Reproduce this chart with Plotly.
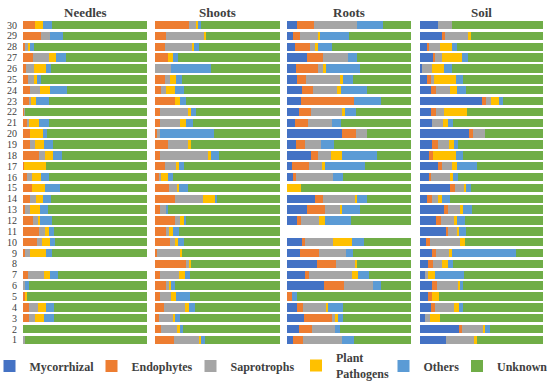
import plotly.graph_objects as go

rows = list(range(1, 31))
panels = ["Needles", "Shoots", "Roots", "Soil"]
categories = ["Mycorrhizal", "Endophytes", "Saprotrophs", "Plant<br>Pathogens", "Others", "Unknown"]
colors = ["#4472C4", "#ED7D31", "#A5A5A5", "#FFC000", "#5B9BD5", "#70AD47"]

# values per row 1..30 (percent); None = no sample
N = None
needles_myc = [0, 0, 0, 0, 0, 0, 0, N, 0, 0, 0, 0, 0, 0, 0, 0, 0, 0, 0, 0, 0, 0, 0, 0, 0, 0, 0, 0, 0, 0]
needles_end = [0, 0, 4.6, 5, 2, 0, 4, N, 2, 11.3, 12.6, 8, 2, 5.4, 7.3, 3.2, 0.8, 12.6, 6, 6, 3.2, 1, 4.5, 6, 4, 2.7, 8, 1.5, 14.5, 10]
needles_sap = [2, 0, 5.4, 7, 0, 2, 12.6, N, 3.5, 4, 5.4, 4.6, 3.5, 5.4, 0, 4, 0, 5.4, 4, 0, 2, 1, 2, 8, 4.5, 6, 13, 3, 7.5, 0]
needles_pat = [0, 0, 7.3, 6.5, 1.3, 0, 5.4, N, 13.4, 6.2, 2.7, 1.3, 8.6, 5.4, 10.8, 7.5, 18, 6.2, 6.7, 10, 8, 0, 4.3, 7.5, 2.7, 10, 5.5, 1.3, 0, 6]
needles_oth = [0, 0, 8, 6.2, 0, 2.7, 6.2, N, 4.6, 4.6, 4, 9.4, 6, 6.5, 11.6, 6.5, 0, 7.3, 7.5, 3, 8, 0, 10, 14, 3.2, 3.8, 8, 2.7, 10, 7.5]
needles_unk = [98, 100, 74.7, 75.3, 96.7, 95.3, 71.8, N, 76.5, 73.9, 75.3, 76.7, 79.9, 77.3, 70.3, 78.8, 81.2, 68.5, 75.8, 81, 78.8, 98, 79.2, 64.5, 85.6, 77.5, 65.5, 91.5, 68, 76.5]

shoots_myc = [0] * 30
shoots_end = [15, 5, 2.9, 7.2, 4.3, 8.6, 4.3, 24.6, 1.9, 11.8, 8.6, 15.8, 3.7, 16.3, 11, 3.7, 7.8, 4.3, 10, 1.9, 3.7, 3.7, 16.3, 5, 7.8, 0, 10, 7.8, 9, 27]
shoots_sap = [20.3, 12.6, 11.5, 16.6, 8.3, 3.2, 14.7, 2.4, 18, 4.5, 2.7, 4.5, 5.3, 22.2, 7, 1.3, 8.8, 38, 16, 1.9, 16, 22.7, 0, 3.5, 4, 13, 0, 21.4, 30.7, 5.6]
shoots_pat = [1.3, 2, 1.9, 3.2, 4.5, 1.3, 4.8, 1.6, 1.9, 2, 3.2, 2.7, 0, 9.4, 1.3, 5.3, 2.7, 2.7, 2.4, 0, 5.3, 2.7, 3.5, 7.8, 5.3, 0, 4.5, 2, 0.8, 1.9]
shoots_oth = [3.2, 2.7, 3.5, 4.8, 10.7, 3.2, 4, 0, 0, 4.8, 4.5, 2, 1.3, 1.9, 6.7, 4, 4, 5.9, 0, 43.3, 5.3, 4, 5.3, 7, 4.8, 31.5, 3.5, 4, 0, 2]
shoots_unk = [60.2, 77.7, 80.2, 68.2, 72.2, 83.7, 72.2, 71.4, 78.2, 76.9, 81, 75, 89.7, 50.2, 74, 85.7, 76.7, 49.1, 71.6, 52.9, 69.7, 66.9, 74.9, 76.7, 78.1, 55.5, 82, 64.8, 59.5, 63.5]

roots_myc = [4.9, 9.5, 13.8, 8.4, 0, 29.7, 14.3, 23.8, 10.8, 12.2, N, 8.1, 16.2, 22.4, 0, 4.9, 4, 19.2, 7, 44.6, 6.2, 9.5, 11.6, 12.2, 8.1, 7, 16.5, 6.2, 4.9, 8.1]
roots_end = [8.1, 10.8, 22.2, 4.6, 4.3, 16.5, 3.2, 15.7, 14.9, 2.7, N, 3.5, 14.3, 6.8, 0, 2.2, 13.8, 5.4, 7.8, 11.1, 10.8, 9.9, 42.4, 8.9, 7, 17.6, 12.2, 12.7, 5.9, 13.8]
roots_sap = [31.6, 18.4, 3.5, 18.4, 0, 23, 34.6, 15.4, 21.6, 22.4, N, 14, 12.2, 25.7, 0, 29.7, 10.8, 10.5, 13, 9.2, 18.9, 25.1, 0, 18.9, 27.6, 4.6, 20.8, 4.3, 14.3, 34.3]
roots_pat = [0, 0, 1.4, 1.9, 0, 0, 5.4, 1.9, 0, 15.4, N, 4.9, 1.9, 1.4, 11.6, 0, 2.4, 8.9, 0, 0, 0, 1.9, 0, 3.2, 2.7, 1.9, 0, 1.4, 1.4, 0]
roots_oth = [9.5, 4, 4.6, 12.2, 3.8, 6.8, 8.9, 0, 5.7, 9.7, N, 20.8, 14.3, 8.6, 0, 8.6, 31.9, 28.4, 10.3, 0, 7.6, 8.9, 21.6, 21.6, 7.6, 27.8, 7.3, 11.9, 23.8, 21.6]
roots_unk = [45.9, 57.3, 54.5, 54.5, 91.9, 24, 33.6, 43.2, 47, 37.6, N, 48.7, 41.1, 35.1, 88.4, 54.6, 37.1, 27.6, 61.9, 35.1, 56.5, 44.7, 24.4, 35.2, 47, 41.1, 43.2, 63.5, 49.7, 22.2]

soil_myc = [20.8, 31.6, 4, 8.6, 6.2, 9.5, 4, 6.8, 9.5, 4.6, 21.6, 13, 19.7, 5.9, 24.3, 8.1, 14.9, 7.3, 10, 40, 9.5, 8.6, 50.8, 8.6, 5.4, 1.9, 10.8, 5.9, 17.6, 14.9]
soil_end = [0, 2.7, 0, 3.5, 3.2, 4.6, 0, 3.5, 3.5, 3.5, 1.4, 4, 2.7, 4, 4, 1, 3.2, 3.5, 4.3, 3.2, 0, 4, 2.7, 4, 3.2, 0, 1.4, 1.4, 2.7, 0]
soil_sap = [23.8, 17, 4, 15.7, 0, 16.5, 2.7, 7.3, 10.8, 24.3, 6.8, 10.5, 10, 4.9, 7.6, 14.9, 8.1, 0, 9.5, 9.5, 8.9, 7, 4.6, 11.6, 3, 7.6, 5.9, 8.9, 19.5, 10.8]
soil_pat = [1.4, 1.4, 8.6, 4, 5.9, 1.9, 5.4, 5.4, 1.9, 4, 2.2, 2.2, 2.7, 3.2, 1.9, 3.2, 3.5, 18.4, 3.8, 0, 4.6, 18.6, 6.2, 6.2, 17.3, 10.3, 15.7, 9.5, 1.6, 0]
soil_oth = [0, 4.6, 0, 3.2, 0, 2.7, 23.5, 4, 52.7, 0, 5.4, 6.8, 6.8, 6.2, 4, 3.5, 17, 5.9, 3, 0, 4, 0, 3.2, 6.8, 5.7, 5.9, 5.4, 4.6, 0, 0]
soil_unk = [54, 42.7, 83.4, 65, 84.7, 64.8, 64.4, 73, 21.6, 63.6, 62.6, 63.5, 58.1, 75.8, 58.2, 69.3, 53.3, 64.9, 69.4, 47.3, 73, 61.8, 32.5, 62.8, 65.4, 74.3, 60.8, 69.7, 58.6, 74.3]

panel_data = [
    [needles_myc, needles_end, needles_sap, needles_pat, needles_oth, needles_unk],
    [shoots_myc, shoots_end, shoots_sap, shoots_pat, shoots_oth, shoots_unk],
    [roots_myc, roots_end, roots_sap, roots_pat, roots_oth, roots_unk],
    [soil_myc, soil_end, soil_sap, soil_pat, soil_oth, soil_unk],
]

W, H = 550, 387
x_domains = [(23, 147), (155, 280), (287, 411), (420, 543)]
y_dom = [(H - 345.4) / H, (H - 19.6) / H]

fig = go.Figure()
legend_names = ["legend", "legend2", "legend3", "legend4", "legend5", "legend6"]
for p, pdata in enumerate(panel_data):
    xa = "x" if p == 0 else f"x{p+1}"
    ya = "y" if p == 0 else f"y{p+1}"
    for c, vals in enumerate(pdata):
        fig.add_trace(go.Bar(
            y=rows, x=vals, orientation="h", name=categories[c],
            marker=dict(color=colors[c], line=dict(width=0)),
            xaxis=xa, yaxis=ya, showlegend=(p == 0), legend=legend_names[c],
            hoverinfo="skip",
        ))

font_family = "Liberation Serif, Times New Roman, serif"
layout = dict(
    width=W, height=H, margin=dict(l=0, r=0, t=0, b=0, autoexpand=False),
    barmode="stack", bargap=0.22,
    plot_bgcolor="white", paper_bgcolor="white",
    font=dict(family=font_family, color="#404040"),
)
for p, (x0, x1) in enumerate(x_domains):
    sfx = "" if p == 0 else str(p + 1)
    layout["xaxis" + sfx] = dict(domain=[x0 / W, x1 / W], range=[0, 100], visible=False, fixedrange=True,
                                 anchor="y" + sfx)
    layout["yaxis" + sfx] = dict(domain=y_dom, range=[0.5, 30.5], showgrid=False, zeroline=False,
                                 showline=False, ticks="", showticklabels=(p == 0),
                                 tickvals=rows, ticktext=[str(r) for r in rows],
                                 ticklabelstandoff=5, automargin=False, fixedrange=True,
                                 tickfont=dict(size=10, color="#404040", family=font_family),
                                 anchor="x" + sfx)
fig.update_layout(**layout)

# titles
annotations = []
for p, (x0, x1) in enumerate(x_domains):
    annotations.append(dict(text=f"<b>{panels[p]}</b>", x=(x0 + x1) / 2 / W, y=(H - 12) / H,
                            xref="paper", yref="paper", showarrow=False, xanchor="center", yanchor="middle",
                            font=dict(size=13, color="#404040", family=font_family)))
fig.update_layout(annotations=annotations)

# legends (one per category so each entry sits where the reference has it)
sym_centers = [9.5, 111.5, 210.5, 316, 403.5, 477]
for i, cx in enumerate(sym_centers):
    fig.update_layout(**{legend_names[i]: dict(
        x=(cx - 20) / W, y=(H - 366) / H, xanchor="left", yanchor="middle",
        orientation="h", bgcolor="rgba(0,0,0,0)", borderwidth=0,
        font=dict(size=12, color="#404040", family=font_family),
        itemclick=False, itemdoubleclick=False,
    )})
for tr in fig.data[:6]:
    tr.name = f"<b>{tr.name}</b>".replace("<br>", "</b><br><b>")

fig.write_html("out.html", config={"displayModeBar": False},
               post_script="document.body.style.margin='0';")
